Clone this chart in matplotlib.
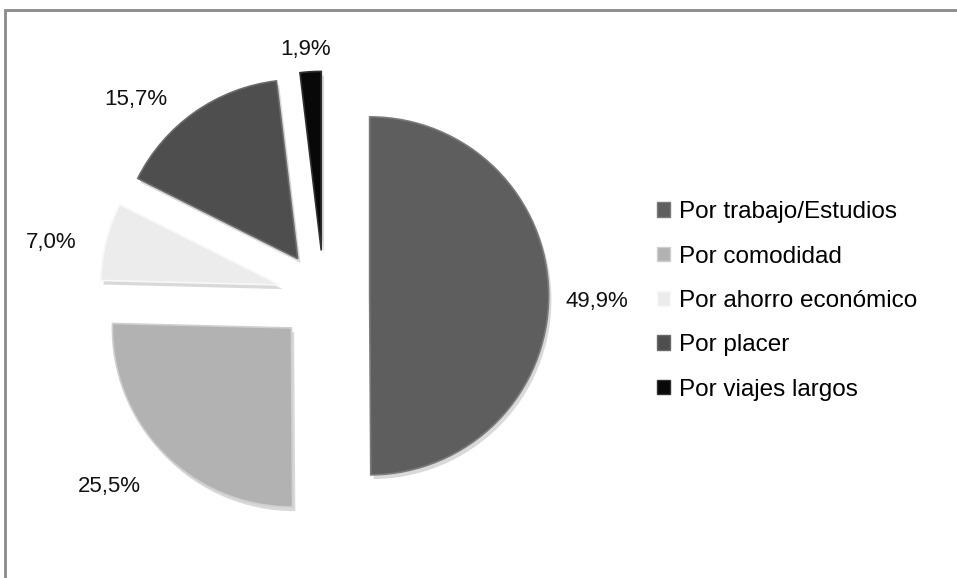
import numpy as np
import matplotlib.pyplot as plt
from matplotlib.patches import Rectangle
import matplotlib.patheffects as pe

# Motivos de uso
categorias = ["Por trabajo/Estudios", "Por comodidad", "Por ahorro económico",
              "Por placer", "Por viajes largos"]
porcentajes = [49.9, 25.5, 7.0, 15.7, 1.9]
colores = ["#5e5e5e", "#b2b2b2", "#ececec", "#4e4e4e", "#080808"]
bordes = ["#7a7a7a", "#cfcfcf", "#f8f8f8", "#6a6a6a", "#303030"]

plt.rcParams["font.family"] = ["Liberation Sans", "DejaVu Sans"]

W, H = 957, 578
fig = plt.figure(figsize=(W / 100, H / 100), dpi=100)

# marco gris del grafico
fig.patches.append(Rectangle((5 / W, -0.05), 1.2, 1 - 10 / H + 0.05,
                             transform=fig.transFigure, fill=False,
                             edgecolor="#8a8a8a", linewidth=2))

# eje centrado en el pie (px): centro (324, 296), radio 179
r = 179
ax = fig.add_axes([24 / W, 12 / H, 600 / W, 540 / H])

etiquetas = [f"{p:.1f}%".replace(".", ",") for p in porcentajes]
wedges, textos = ax.pie(porcentajes, startangle=90, counterclock=False,
                        colors=colores, explode=[0.255] * len(porcentajes),
                        labels=etiquetas, labeldistance=1.3,
                        wedgeprops=dict(linewidth=1.2),
                        textprops=dict(fontsize=16, color="#111111"))

for w, ec in zip(wedges, bordes):
    w.set_edgecolor(ec)
    w.set_path_effects([pe.SimplePatchShadow(offset=(2, -3), shadow_rgbFace="#a0a0a0", alpha=0.4),
                        pe.Normal()])

# distancia y giro de cada etiqueta respecto al centro del sector
dist = [1.27, 1.34, 1.30, 1.28, 1.14]
giro = [-1, -4, 3, 10, 1]
for w, t, d, g in zip(wedges, textos, dist, giro):
    ang = np.deg2rad((w.theta1 + w.theta2) / 2 + g)
    cx, cy = w.center
    t.set_position((cx + d * np.cos(ang), cy + d * np.sin(ang)))
    t.set_ha("center")
    t.set_va("center_baseline")

ax.set_aspect("auto")
ax.set_xlim(-300 / r, 300 / r)
ax.set_ylim(-270 / r, 270 / r)

cuadros = [Rectangle((0, 0), 1, 1, facecolor=c, edgecolor=e, linewidth=1)
           for c, e in zip(colores, bordes)]
fig.legend(cuadros, categorias, loc="center left",
           bbox_to_anchor=(657 / W, 1 - 301 / H), frameon=False,
           fontsize=17.5, borderpad=0, borderaxespad=0,
           handlelength=0.55, handleheight=0.55, handletextpad=0.35,
           labelspacing=0.92)

fig.savefig("out.png", dpi=100)
